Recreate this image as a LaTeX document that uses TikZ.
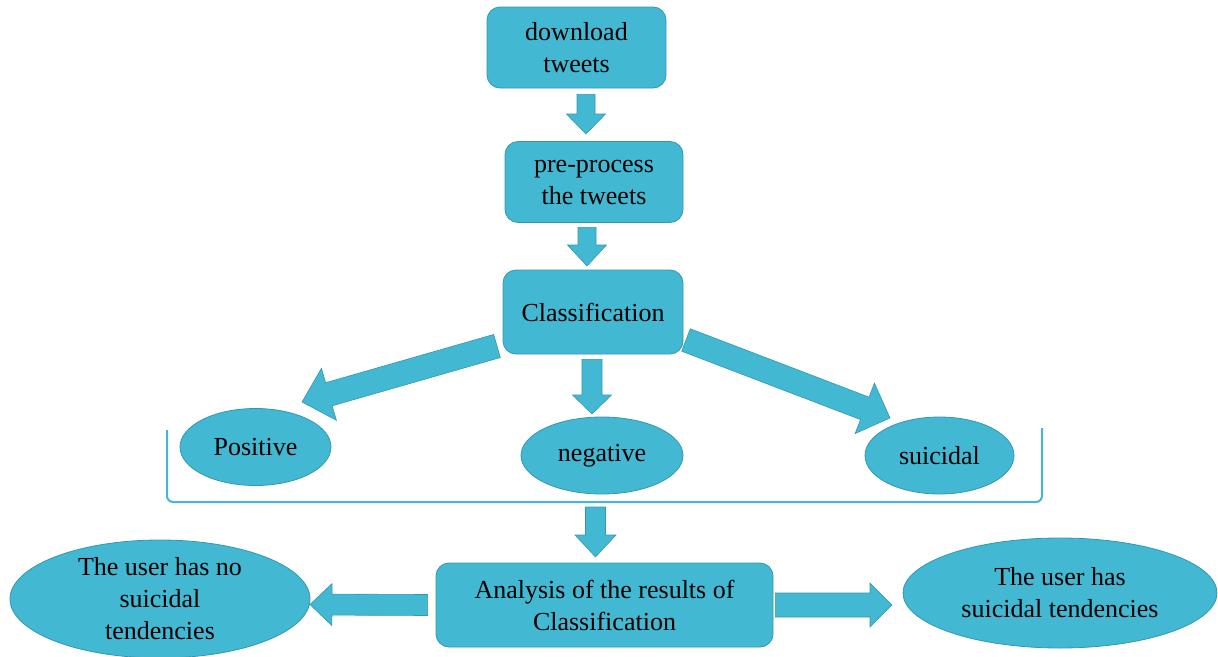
\documentclass[tikz,border=0pt]{standalone}
\usepackage{fontspec}
\setmainfont{Liberation Serif}
\usetikzlibrary{calc,shapes.geometric}
\definecolor{tealfill}{RGB}{66,184,210}
\definecolor{tealline}{RGB}{52,150,176}
\newcommand\blockarr[5]{%
  \path[barrow] let \p1=($(#2)-(#1)$), \n1={atan2(\y1,\x1)} in
    ($(#1)+(\n1+90:#3)$) --
    ($(#2)+(\n1+180:#5)+(\n1+90:#3)$) --
    ($(#2)+(\n1+180:#5)+(\n1+90:#4)$) --
    (#2) --
    ($(#2)+(\n1+180:#5)+(\n1-90:#4)$) --
    ($(#2)+(\n1+180:#5)+(\n1-90:#3)$) --
    ($(#1)+(\n1-90:#3)$) -- cycle;}
\tikzset{
  box/.style={draw=tealline, line width=0.8pt, fill=tealfill, rounded corners=13pt,
    align=center, inner sep=0pt, font=\fontsize{26}{32}\selectfont},
  oval/.style={draw=tealline, line width=0.8pt, fill=tealfill, ellipse,
    align=center, inner sep=0pt, font=\fontsize{26}{32}\selectfont},
  barrow/.style={draw=tealline, line width=0.6pt, fill=tealfill},
  brace/.style={draw=tealfill, line width=2pt, rounded corners=6pt}
}
\begin{document}
\begin{tikzpicture}[x=1pt,y=1pt]
\useasboundingbox (0,0) rectangle (1218,-656);
% boxes
\node[box, minimum width=179pt, minimum height=81pt] (dl) at (576.5,-47.5) {download\\tweets};
\node[box, minimum width=178pt, minimum height=81pt] (pp) at (594,-182) {pre-process\\the tweets};
\node[box, minimum width=180pt, minimum height=84pt] (cls) at (593,-312) {Classification};
\node[box, minimum width=337pt, minimum height=84pt] (ana) at (604.5,-605) {Analysis of the results of\\Classification};
% ellipses
\node[oval, minimum width=151pt, minimum height=77pt] (pos) at (255.5,-447) {Positive};
\node[oval, minimum width=162pt, minimum height=77pt] (neg) at (602,-455.5) {negative};
\node[oval, minimum width=149pt, minimum height=77pt] (sui) at (939.5,-455.5) {suicidal};
\node[oval, minimum width=300pt, minimum height=118pt] (nos) at (160,-599) {The user has no\\suicidal\\tendencies};
\node[oval, minimum width=314pt, minimum height=110pt] (hass) at (1060,-593) {The user has\\suicidal tendencies};
% bracket
\coordinate (brl) at (167,-430);
\coordinate (brr) at (1042,-428);
\draw[brace] (brl) -- (167,-502) -- (1042,-502) -- (brr);
% arrow end points
\coordinate (a1s) at ($(dl.south)+(9.5,-6)$);
\coordinate (a1e) at (586,-134);
\coordinate (a2s) at ($(pp.south)+(-7,-4.5)$);
\coordinate (a2e) at (587,-266);
\coordinate (a3s) at ($(cls.south)+(-1,-5)$);
\coordinate (a3e) at (592,-414);
\coordinate (a4s) at (595.5,-507);
\coordinate (a4e) at (595.5,-557);
\coordinate (als) at (497,-346);
\coordinate (ale) at (302,-402);
\coordinate (ars) at (686,-340);
\coordinate (are) at (890,-418);
\coordinate (ahls) at ($(ana.west)+(-8,0)$);
\coordinate (ahle) at (310,-604.5);
\coordinate (ahrs) at ($(ana.east)+(2,0)$);
\coordinate (ahre) at (892,-605);
% block arrows
\blockarr{a1s}{a1e}{9}{19.5}{20}
\blockarr{a2s}{a2e}{9}{19.5}{21}
\blockarr{a3s}{a3e}{10}{19.5}{19}
\blockarr{a4s}{a4e}{10}{20.5}{22}
\blockarr{als}{ale}{12}{27}{28}
\blockarr{ars}{are}{12}{27}{27}
\blockarr{ahls}{ahle}{10.5}{21}{22}
\blockarr{ahrs}{ahre}{12}{22}{22}
\end{tikzpicture}
\end{document}
